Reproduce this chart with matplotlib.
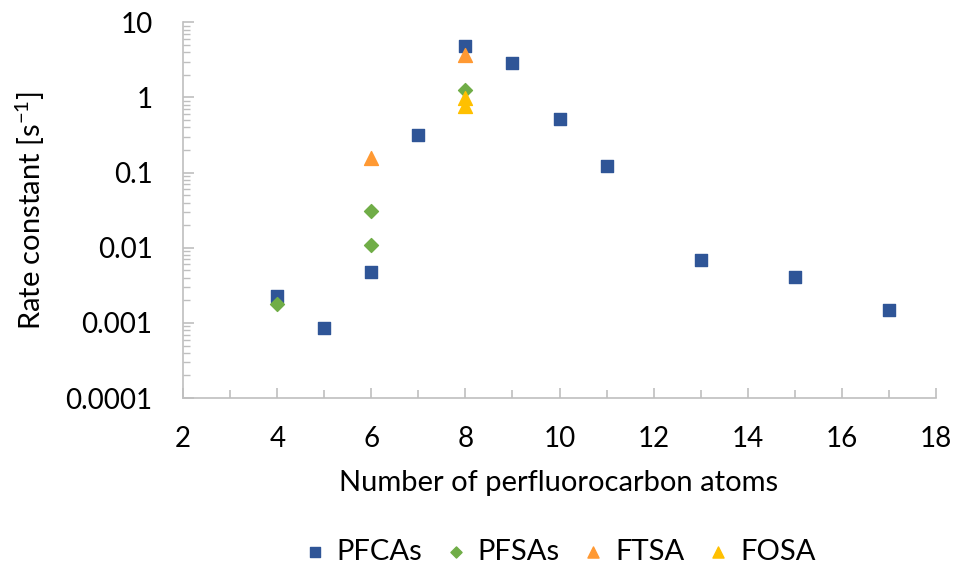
import matplotlib.pyplot as plt
from matplotlib.ticker import FixedLocator, LogLocator, NullFormatter, FuncFormatter

plt.rcParams["font.family"] = ['Lato', 'DejaVu Sans']
plt.rcParams["mathtext.fontset"] = 'custom'
plt.rcParams["mathtext.rm"] = 'Lato'

# PFCAs
pfca_x = [4, 5, 6, 7, 8, 9, 10, 11, 13, 15, 17]
pfca_y = [0.0023, 0.00085, 0.0047, 0.32, 4.9, 2.9, 0.51, 0.123, 0.0068, 0.0041, 0.00148]
# PFSAs
pfsa_x = [4, 6, 6, 8]
pfsa_y = [0.00178, 0.031, 0.0109, 1.27]
# FTSA
ftsa_x = [6, 8]
ftsa_y = [0.158, 3.7]
# FOSA
fosa_x = [8, 8]
fosa_y = [0.97, 0.76]

fig = plt.figure(figsize=(9.54, 5.72), dpi=100)
ax = fig.add_axes([0.192, 0.304, 0.789, 0.657])

ax.scatter(pfca_x, pfca_y, marker='s', color='#2F5597', s=80, label='PFCAs', zorder=3)
ax.scatter(pfsa_x, pfsa_y, marker='D', color='#70AD47', s=50, label='PFSAs', zorder=3)
ax.scatter(ftsa_x, ftsa_y, marker='^', color='#FF9933', s=100, label='FTSA', zorder=3)
ax.scatter(fosa_x, fosa_y, marker='^', color='#FFC000', s=100, label='FOSA', zorder=3)

ax.set_yscale('log')
ax.set_ylim(0.0001, 10)
ax.set_xlim(2, 18)

ax.xaxis.set_major_locator(FixedLocator([2, 4, 6, 8, 10, 12, 14, 16, 18]))
ax.xaxis.set_minor_locator(FixedLocator([3, 5, 7, 9, 11, 13, 15, 17]))
ax.yaxis.set_major_locator(FixedLocator([0.0001, 0.001, 0.01, 0.1, 1, 10]))
ax.yaxis.set_minor_locator(LogLocator(base=10, subs=range(2, 10)))
ax.yaxis.set_minor_formatter(NullFormatter())
ax.yaxis.set_major_formatter(FuncFormatter(lambda v, p: ('%g' % v) if v >= 0.001 else '%.4f' % v))

for s in ['top', 'right']:
    ax.spines[s].set_visible(False)
for s in ['left', 'bottom']:
    ax.spines[s].set_color('#BFBFBF')
    ax.spines[s].set_linewidth(1.2)

ax.tick_params(axis='both', which='both', direction='in', colors='#BFBFBF', labelcolor='black', labelsize=20)
ax.tick_params(axis='x', which='major', length=7, width=1.2, pad=20)
ax.tick_params(axis='x', which='minor', length=6, width=1.2)
ax.tick_params(axis='y', which='major', length=8, width=1.2, pad=22)
ax.tick_params(axis='y', which='minor', length=5, width=1.0)

ax.set_xlabel('Number of perfluorocarbon atoms', fontsize=21)
ax.set_ylabel(r'Rate constant [s$^{\mathrm{-1}}$]', fontsize=21)
ax.xaxis.set_label_coords(0.499, -0.226)
ax.yaxis.set_label_coords(-0.203, 0.5)
ax.xaxis.label.set_va('center')
ax.yaxis.label.set_va('center')

fig.legend(loc='center', bbox_to_anchor=(0.587, 0.035), ncol=4, frameon=False,
           fontsize=21, markerscale=0.8, handletextpad=0.4, columnspacing=0.8,
           handlelength=0.7)

fig.savefig('out.png', dpi=100)
